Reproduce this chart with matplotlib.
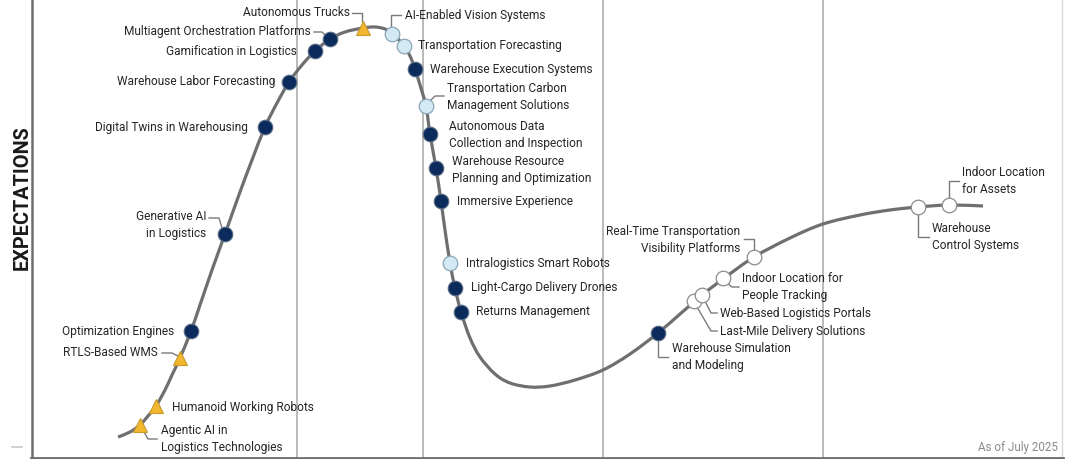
import matplotlib
matplotlib.use("Agg")
import matplotlib.pyplot as plt
from matplotlib.path import Path
from matplotlib.patches import PathPatch

plt.rcParams['font.family'] = ['Roboto', 'DejaVu Sans']

# ---- data (chart coordinates: x = time, y = expectation depth) ----
curve_x = [118, 130, 140, 148, 156, 165, 172, 180, 191, 200, 212, 225, 240, 252, 265, 277,
           289, 302, 315, 330, 345, 363, 375, 385, 392, 398, 404, 410, 415, 420, 426, 430,
           436, 441, 445, 450, 455, 461, 470, 480, 495, 510, 530, 550, 575, 603, 630, 658,
           680, 694, 702, 723, 754, 790, 823, 860, 890, 918, 949, 983]
curve_y = [437, 432, 425, 416, 406, 390, 375, 358, 331, 305, 270, 234, 192, 160, 127, 103,
           82, 65, 51, 39, 32, 28, 27, 29, 34, 39, 46, 56, 69, 85, 106, 134,
           168, 201, 230, 263, 288, 312, 338, 357, 374, 383, 387, 386, 380, 370, 354, 333,
           314, 302, 295, 279, 257, 238, 224, 215, 210, 207, 205, 206]

tech_names = ["Agentic AI in\nLogistics Technologies", "Humanoid Working Robots", "RTLS-Based WMS",
              "Optimization Engines", "Generative AI\nin Logistics", "Digital Twins in Warehousing",
              "Warehouse Labor Forecasting", "Gamification in Logistics",
              "Multiagent Orchestration Platforms", "Autonomous Trucks", "AI-Enabled Vision Systems",
              "Transportation Forecasting", "Warehouse Execution Systems",
              "Transportation Carbon\nManagement Solutions", "Autonomous Data\nCollection and Inspection",
              "Warehouse Resource\nPlanning and Optimization", "Immersive Experience",
              "Intralogistics Smart Robots", "Light-Cargo Delivery Drones", "Returns Management",
              "Warehouse Simulation\nand Modeling", "Last-Mile Delivery Solutions",
              "Web-Based Logistics Portals", "Indoor Location for\nPeople Tracking",
              "Real-Time Transportation\nVisibility Platforms", "Warehouse\nControl Systems",
              "Indoor Location\nfor Assets"]
tech_x = [140, 156, 180, 191, 225, 265, 289, 315, 330, 363, 392, 404, 415, 426, 430, 436, 441,
          450, 455, 461, 658, 694, 702, 723, 754, 918, 949]
tech_y = [425, 406, 358, 331, 234, 127, 82, 51, 39, 28, 34, 46, 69, 106, 134, 168, 201,
          263, 288, 312, 333, 301, 295, 278, 257, 207, 205]
# plateau class: 'tri' = more than 10 yrs, 'navy' = 5-10 yrs, 'light' = 2-5 yrs, 'white' = <2 yrs
tech_kind = ["tri", "tri", "tri", "navy", "navy", "navy", "navy", "navy", "navy", "tri", "light",
             "light", "navy", "light", "navy", "navy", "navy", "light", "navy", "navy", "navy",
             "white", "white", "white", "white", "white", "white"]

phase_bounds = [297, 423, 603, 823]
as_of = "As of July 2025"

# ---- layout (label anchor, alignment, connector polyline) ----
labels = {
    "Agentic AI in\nLogistics Technologies": ((161, 439), 'left', [(143, 430), (148, 439), (157, 439)]),
    "Humanoid Working Robots": ((172, 407), 'left', None),
    "RTLS-Based WMS": ((158, 353), 'right', [(162, 353), (172, 353), (178, 356)]),
    "Optimization Engines": ((174, 331), 'right', None),
    "Generative AI\nin Logistics": ((206, 225), 'right', [(209, 218), (219, 218), (222, 228)]),
    "Digital Twins in Warehousing": ((248, 127), 'right', None),
    "Warehouse Labor Forecasting": ((275, 82), 'right', None),
    "Gamification in Logistics": ((297, 51), 'right', None),
    "Multiagent Orchestration Platforms": ((311, 32), 'right', [(314, 32), (322, 32), (326, 36)]),
    "Autonomous Trucks": ((350, 13), 'right', [(352, 13), (362, 13), (362, 21)]),
    "AI-Enabled Vision Systems": ((405, 16), 'left', [(391, 28), (391, 15), (401, 15)]),
    "Transportation Forecasting": ((418, 45), 'left', None),
    "Warehouse Execution Systems": ((430, 69), 'left', None),
    "Transportation Carbon\nManagement Solutions": ((447, 97), 'left', [(430, 101), (435, 96), (444, 96)]),
    "Autonomous Data\nCollection and Inspection": ((449, 135), 'left', None),
    "Warehouse Resource\nPlanning and Optimization": ((452, 170), 'left', None),
    "Immersive Experience": ((457, 201), 'left', None),
    "Intralogistics Smart Robots": ((466, 263), 'left', None),
    "Light-Cargo Delivery Drones": ((471, 288), 'left', None),
    "Returns Management": ((476, 312), 'left', None),
    "Warehouse Simulation\nand Modeling": ((672, 357), 'left', [(658, 340), (658, 357), (668, 357)]),
    "Last-Mile Delivery Solutions": ((720, 331), 'left', [(697, 307), (711, 331), (717, 331)]),
    "Web-Based Logistics Portals": ((720, 313), 'left', [(705, 301), (711, 313), (717, 313)]),
    "Indoor Location for\nPeople Tracking": ((742, 287), 'left', [(727, 283), (732, 287), (739, 287)]),
    "Real-Time Transportation\nVisibility Platforms": ((740, 240), 'right', [(744, 239), (754, 239), (754, 251)]),
    "Warehouse\nControl Systems": ((932, 237), 'left', [(918, 213), (918, 237), (929, 237)]),
    "Indoor Location\nfor Assets": ((962, 181), 'left', [(949, 199), (949, 181), (959, 181)]),
}

styles = {
    "navy":  dict(marker='o', ms=10.5, mfc='#0b2b5c', mec='#5a6b85', mew=0.8),
    "light": dict(marker='o', ms=10.5, mfc='#d3eaf5', mec='#8aa5b5', mew=0.9),
    "white": dict(marker='o', ms=10.5, mfc='#ffffff', mec='#8c8c8c', mew=0.9),
    "tri":   dict(marker='^', ms=10, mfc='#f1b72e', mec='#c89a2c', mew=0.8),
}

fig = plt.figure(figsize=(10.8, 4.59), dpi=100)
ax = fig.add_axes([0, 0, 1, 1])
ax.set_xlim(0, 1080)
ax.set_ylim(459, 0)
ax.axis('off')

# frame
for xb in phase_bounds:
    ax.plot([xb, xb], [0, 457], color='#b4b4b4', lw=1.3, zorder=1)
ax.plot([1062, 1062], [0, 457], color='#d8d8d8', lw=1.0, zorder=1)
ax.plot([32, 32], [0, 458], color='#6e6e6e', lw=1.8, zorder=2)
ax.plot([31, 1063], [457.5, 457.5], color='#6e6e6e', lw=2.0, zorder=2)
ax.plot([12, 22], [447, 447], color='#c8c8c8', lw=1.2, zorder=2)

ax.text(22, 198, "EXPECTATIONS", rotation=90, ha='center', va='center',
        fontsize=14.3, fontweight='bold', color='#1a1a1a')
ax.text(1058, 447, as_of, ha='right', va='center', fontsize=8.4, color='#8a8a8a')

# curve: smooth path through the read points (Catmull-Rom rendered as cubic Beziers)
pts = list(zip(curve_x, curve_y))
verts = [pts[0]]
codes = [Path.MOVETO]
n = len(pts)
for i in range(n - 1):
    p0 = pts[i - 1] if i > 0 else pts[i]
    p1 = pts[i]
    p2 = pts[i + 1]
    p3 = pts[i + 2] if i + 2 < n else pts[i + 1]
    c1 = (p1[0] + (p2[0] - p0[0]) / 6.0, p1[1] + (p2[1] - p0[1]) / 6.0)
    c2 = (p2[0] - (p3[0] - p1[0]) / 6.0, p2[1] - (p3[1] - p1[1]) / 6.0)
    verts += [c1, c2, p2]
    codes += [Path.CURVE4] * 3
ax.add_patch(PathPatch(Path(verts, codes), fill=False, edgecolor='#6f6f6f', lw=2.3,
                       capstyle='butt', zorder=3))

# connectors and labels
for name in tech_names:
    (lx, ly), ha, conn = labels[name]
    if conn:
        cx, cy = zip(*conn)
        ax.plot(cx, cy, color='#7a7a7a', lw=1.0, zorder=3)
    ax.text(lx, ly, name, ha=ha, va='center', fontsize=8.6, color='#262626',
            linespacing=1.33, zorder=5)

# markers
for x, y, k in zip(tech_x, tech_y, tech_kind):
    ax.plot([x], [y], ls='none', zorder=6, **styles[k])

fig.savefig("out.png", dpi=100)
